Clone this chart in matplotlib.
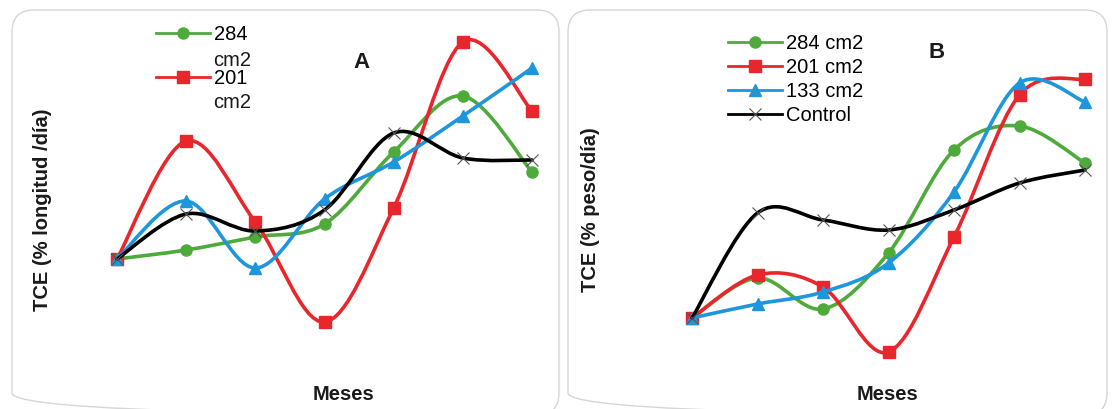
import matplotlib.pyplot as plt
from matplotlib.path import Path
from matplotlib.patches import PathPatch, FancyBboxPatch
from matplotlib.lines import Line2D

plt.rcParams['font.family'] = ['Liberation Sans', 'DejaVu Sans']

W, H = 1113, 409

meses = [1, 2, 3, 4, 5, 6, 7]

# Panel A: TCE (% longitud/día)
a_284 = [0.91, 1.00, 1.13, 1.26, 1.98, 2.54, 1.78]
a_201 = [0.91, 2.09, 1.28, 0.28, 1.42, 3.08, 2.39]
a_133 = [0.91, 1.49, 0.82, 1.51, 1.88, 2.34, 2.82]
a_ctrl = [0.91, 1.36, 1.19, 1.40, 2.17, 1.92, 1.90]

# Panel B: TCE (% peso/día)
b_284 = [0.82, 1.22, 0.91, 1.47, 2.50, 2.74, 2.37]
b_201 = [0.82, 1.25, 1.13, 0.48, 1.63, 3.05, 3.21]
b_133 = [0.82, 0.96, 1.08, 1.37, 2.08, 3.17, 2.98]
b_ctrl = [0.82, 1.87, 1.80, 1.70, 1.90, 2.17, 2.30]

GREEN = '#4FAA3C'
RED = '#E8262B'
BLUE = '#1E96DC'
BLACK = '#000000'
TXT = '#1a1a1a'
FS = 14.5


def smooth_path(x, y):
    # Bezier segments like Excel's "smoothed line"
    pts = list(zip(x, y))
    n = len(pts)
    verts = [pts[0]]
    codes = [Path.MOVETO]
    for i in range(n - 1):
        p0 = pts[i - 1] if i > 0 else pts[i]
        p1 = pts[i]
        p2 = pts[i + 1]
        p3 = pts[i + 2] if i + 2 < n else pts[i + 1]
        c1 = (p1[0] + (p2[0] - p0[0]) / 6, p1[1] + (p2[1] - p0[1]) / 6)
        c2 = (p2[0] - (p3[0] - p1[0]) / 6, p2[1] - (p3[1] - p1[1]) / 6)
        verts += [c1, c2, p2]
        codes += [Path.CURVE4] * 3
    return Path(verts, codes)


def draw_series(ax, y, color, marker, ms, z):
    ax.add_patch(PathPatch(smooth_path(meses, y), fill=False, edgecolor=color,
                           lw=2.6, zorder=z, clip_on=False, capstyle='round'))
    if marker == 'x':
        ax.plot(meses, y, ls='none', marker='x', ms=8, mew=0.8, color='#555555',
                zorder=z + 0.5, clip_on=False)
    else:
        ax.plot(meses, y, ls='none', marker=marker, ms=ms, color=color,
                markeredgecolor=color, zorder=z + 0.5, clip_on=False)


def px_axes(fig, left, right, top, bottom):
    return fig.add_axes([left / W, 1 - bottom / H, (right - left) / W, (bottom - top) / H])


def ftext(x, y, s, **kw):
    fig.text(x / W, 1 - y / H, s, **kw)


fig = plt.figure(figsize=(W / 100, H / 100), dpi=100)

# rounded frames around each panel
bg = fig.add_axes([0, 0, 1, 1])
bg.set_xlim(0, W)
bg.set_ylim(H, 0)
bg.axis('off')
for x0, x1 in [(12, 559), (568, 1107)]:
    bg.add_patch(FancyBboxPatch((x0, 10), x1 - x0, 405, boxstyle='round,pad=0,rounding_size=22',
                                fill=False, edgecolor='#D6D6D6', lw=1.0))

# ---- Panel A ----
axA = px_axes(fig, 117, 532, 30, 340)
axA.set_xlim(1, 7)
axA.set_ylim(0.10, 3.20)
axA.axis('off')
draw_series(axA, a_284, GREEN, 'o', 8, 2)
draw_series(axA, a_201, RED, 's', 8, 3)
draw_series(axA, a_133, BLUE, '^', 9, 4)
draw_series(axA, a_ctrl, BLACK, 'x', 8, 5)

hA = [Line2D([], [], color=GREEN, lw=2, marker='o', ms=8),
      Line2D([], [], color=RED, lw=2, marker='s', ms=8)]
axA.legend(hA, ['284', '201'], loc='upper left', bbox_to_anchor=(146 / W, 1 - 15 / H),
           bbox_transform=fig.transFigure, frameon=False, fontsize=FS, handlelength=2.68,
           handletextpad=0.2, labelspacing=1.24, borderpad=0)
ftext(213, 60, 'cm2', fontsize=FS, ha='left', va='center', color=TXT)
ftext(213, 102, 'cm2', fontsize=FS, ha='left', va='center', color=TXT)

ftext(361, 63, 'A', fontsize=16, fontweight='bold', ha='center', va='center', color=TXT)
ftext(43, 210, 'TCE (% longitud /día)', rotation=90, fontsize=FS,
      fontweight='bold', ha='center', va='center', color=TXT)
ftext(343, 395, 'Meses', fontsize=FS, fontweight='bold', ha='center', va='center', color=TXT)

# ---- Panel B ----
axB = px_axes(fig, 692, 1085, 60, 370)
axB.set_xlim(1, 7)
axB.set_ylim(0.30, 3.40)
axB.axis('off')
draw_series(axB, b_284, GREEN, 'o', 8, 2)
draw_series(axB, b_201, RED, 's', 8, 3)
draw_series(axB, b_133, BLUE, '^', 9, 4)
draw_series(axB, b_ctrl, BLACK, 'x', 8, 5)

hB = [Line2D([], [], color=GREEN, lw=2, marker='o', ms=8),
      Line2D([], [], color=RED, lw=2, marker='s', ms=8),
      Line2D([], [], color=BLUE, lw=2, marker='^', ms=8),
      Line2D([], [], color=BLACK, lw=2, marker='x', ms=8, mew=0.8, markeredgecolor='#555555')]
axB.legend(hB, ['284 cm2', '201 cm2', '133 cm2', 'Control'], loc='upper left',
           bbox_to_anchor=(718 / W, 1 - 24 / H), bbox_transform=fig.transFigure,
           frameon=False, fontsize=FS, handlelength=2.68, handletextpad=0.2,
           labelspacing=0.24, borderpad=0)

ftext(937, 53, 'B', fontsize=16, fontweight='bold', ha='center', va='center', color=TXT)
ftext(591, 210, 'TCE (% peso/día)', rotation=90, fontsize=FS,
      fontweight='bold', ha='center', va='center', color=TXT)
ftext(888, 394, 'Meses', fontsize=FS, fontweight='bold', ha='center', va='center', color=TXT)

fig.savefig('out.png', dpi=100)
